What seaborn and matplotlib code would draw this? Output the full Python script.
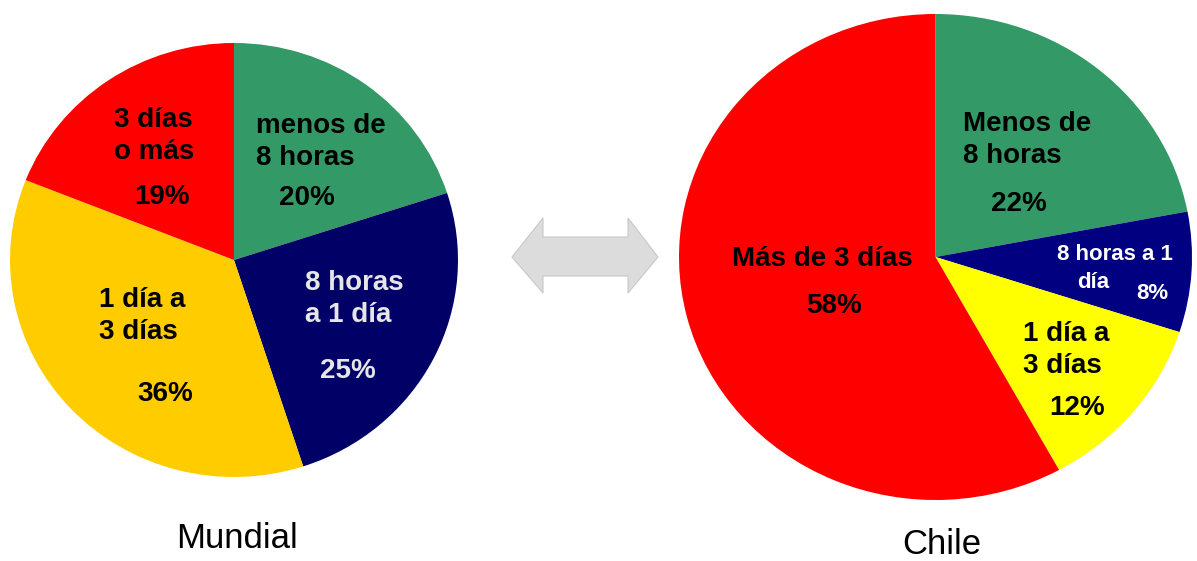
import matplotlib
matplotlib.use("Agg")
import matplotlib.pyplot as plt
from matplotlib.patches import Polygon
import seaborn as sns

sns.set_style("white")
plt.rcParams["font.family"] = ["Liberation Sans", "DejaVu Sans"]
plt.rcParams["text.color"] = "black"

# Shares of incidents by recovery time
categories_world = ["menos de\n8 horas", "8 horas\na 1 día", "1 día a\n3 días", "3 días\no más"]
values_world = [20, 25, 36, 19]
colors_world = ["#339966", "#000066", "#FFCC00", "#FF0000"]

categories_chile = ["Menos de\n8 horas", "8 horas a 1\ndía", "1 día a\n3 días", "Más de 3 días"]
values_chile = [22, 8, 12, 58]
colors_chile = ["#339966", "#000080", "#FFFF00", "#FF0000"]

titles = ["Mundial", "Chile"]

W, H = 1197, 561
fig = plt.figure(figsize=(W / 100, H / 100), dpi=100)


def fx(px):
    return px / W


def fy(py):
    return 1 - py / H


def pie_axes(x0, x1, y0, y1):
    return fig.add_axes([fx(x0), fy(y1), fx(x1 - x0), (y1 - y0) / H])


def draw_pie(ax, values, colors):
    ax.pie(values, colors=colors, startangle=90, counterclock=False,
           wedgeprops=dict(linewidth=0))
    ax.set_xlim(-1, 1)
    ax.set_ylim(-1, 1)
    ax.set_aspect("auto")
    ax.axis("off")


ax_w = pie_axes(10, 458, 43, 477)
draw_pie(ax_w, values_world, colors_world)
ax_c = pie_axes(679, 1192, 14, 500)
draw_pie(ax_c, values_chile, colors_chile)


def label(x, y, s, color="black", size=20, ha="left", weight="bold", ls=1.27):
    fig.text(fx(x), fy(y), s, ha=ha, va="center", color=color,
             fontsize=size, fontweight=weight, linespacing=ls)


# Mundial labels
label(256, 142, categories_world[0])
label(307, 198, f"{values_world[0]}%", ha="center")
label(305, 299, categories_world[1], color="#E6E6E6")
label(348, 371, f"{values_world[1]}%", color="#E6E6E6", ha="center")
label(99, 316, categories_world[2])
label(165, 394, f"{values_world[2]}%", ha="center")
label(114, 136, categories_world[3])
label(162, 197, f"{values_world[3]}%", ha="center")

# Chile labels
label(963, 140, categories_chile[0])
label(1019, 204, f"{values_chile[0]}%", ha="center")
fig.text(fx(1057), fy(254), "8 horas a 1", ha="left", va="center",
         color="white", fontsize=16, fontweight="bold")
fig.text(fx(1093), fy(282), "día", ha="center", va="center",
         color="white", fontsize=16, fontweight="bold")
label(1152, 293, f"{values_chile[1]}%", color="white", size=16, ha="center")
label(1023, 350, categories_chile[2])
label(1077, 408, f"{values_chile[2]}%", ha="center")
label(822, 259, categories_chile[3], ha="center")
label(834, 306, f"{values_chile[3]}%", ha="center")

# Titles under each pie
fig.text(fx(237), fy(538), titles[0], ha="center", va="center", fontsize=25,
         color="black")
fig.text(fx(942), fy(544), titles[1], ha="center", va="center", fontsize=25,
         color="black")

# Double-headed comparison arrow
arrow_px = [(512, 257), (543, 218), (543, 237), (628, 237), (628, 218),
            (658, 257), (628, 293), (628, 276), (543, 276), (543, 293)]
fig.patches.append(Polygon([(fx(x), fy(y)) for x, y in arrow_px], closed=True,
                           transform=fig.transFigure, facecolor="#DCDCDC",
                           edgecolor="#C8C8C8", linewidth=0.8))

fig.savefig("out.png", dpi=100)
